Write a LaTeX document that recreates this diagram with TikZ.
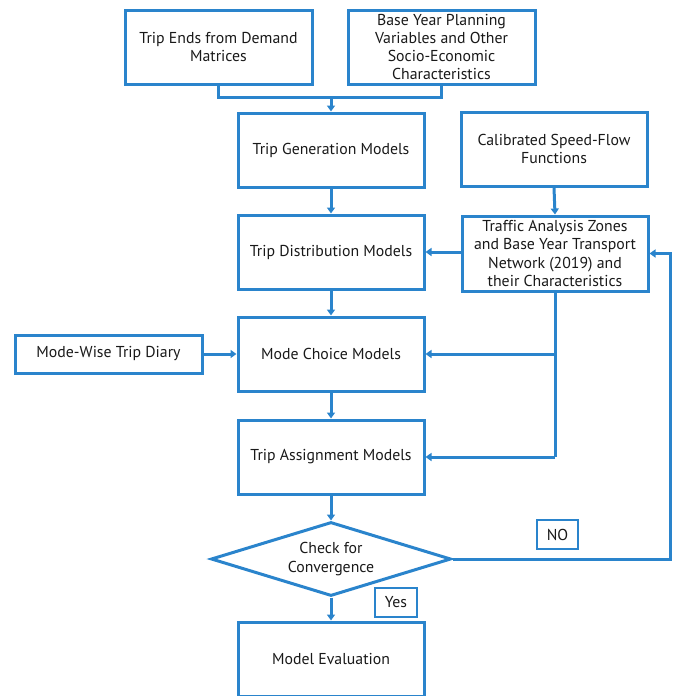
\documentclass[tikz,border=0pt]{standalone}
\usepackage{fontspec}
\setmainfont[Ligatures=CommonOff]{PT Sans}
\usetikzlibrary{shapes.geometric,arrows.meta}
\definecolor{flowblue}{RGB}{42,132,204}
\definecolor{txt}{RGB}{25,25,25}
\begin{document}
\begin{tikzpicture}[x=1pt,y=-1pt,
  every node/.style={font=\fontsize{15.8}{18.3}\selectfont, text=txt},
  box/.style={draw=flowblue, line width=3pt, align=center, inner sep=1pt, minimum width=186pt, minimum height=74pt},
  smallbox/.style={draw=flowblue, line width=2.8pt, align=center, inner sep=1pt},
  conn/.style={draw=flowblue, line width=3pt},
  arr/.style={conn, -{Triangle[length=6pt,width=8pt]}}]
\useasboundingbox (0,0) rectangle (674,696);
\node[box, minimum width=187pt] (te) at (218.5,47) {Trip Ends from Demand\\Matrices};
\node[box, minimum width=187pt] (by) at (441.5,47) {Base Year Planning\\Variables and Other\\Socio-Economic\\Characteristics};
\node[box] (tg) at (331,150) {Trip Generation Models};
\node[box] (cal) at (554,149) {Calibrated Speed-Flow\\Functions};
\node[box] (td) at (331,252) {Trip Distribution Models};
\node[box, minimum height=75pt] (taz) at (555,253.5) {Traffic Analysis Zones\\and Base Year Transport\\Network (2019) and\\their Characteristics};
\node[box, minimum width=187pt, minimum height=38pt] (md) at (108.5,354) {Mode-Wise Trip Diary};
\node[box] (mc) at (331,354) {Mode Choice Models};
\node[box] (ta) at (331,457) {Trip Assignment Models};
\node[diamond, draw=flowblue, line width=3pt, align=center, minimum width=240pt, minimum height=74pt, inner sep=0pt, aspect=3.24] (dia) at (331,559) {Check for\\Convergence};
\node[box] (me) at (331,659) {Model Evaluation};
\node[smallbox, minimum width=41pt, minimum height=29pt] (no) at (557.5,534.5) {NO};
\node[smallbox, minimum width=42pt, minimum height=29pt] (yes) at (396,602.5) {Yes};
\coordinate (j) at (331,97);
\draw[conn] (te.south) |- (j);
\draw[conn] (by.south) |- (j);
\draw[arr] (j) -- (tg.north);
\draw[arr] (tg.south) -- (td.north);
\draw[arr] (cal.south) -- (taz.north);
\draw[arr] (taz.west |- td.east) -- (td.east);
\draw[arr] (td.south) -- (mc.north);
\draw[arr] (md.east) -- (mc.west);
\coordinate (b1) at (taz.south |- mc.east);
\coordinate (b2) at (taz.south |- ta.east);
\draw[conn] (taz.south) -- (b2);
\draw[arr] (b1) -- (mc.east);
\draw[arr] (b2) -- (ta.east);
\draw[arr] (mc.south) -- (ta.north);
\draw[arr] (ta.south) -- (dia.north);
\coordinate (loop) at (670,559);
\draw[arr] (dia.east) -- (loop) |- (taz.east);
\draw[arr] (dia.south) -- (me.north);
\end{tikzpicture}
\end{document}
